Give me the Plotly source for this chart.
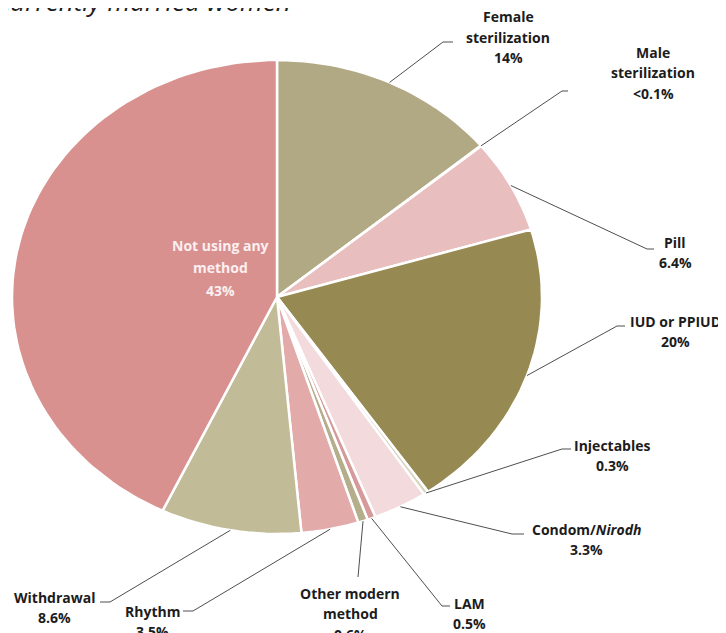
import numpy as np
import plotly.graph_objects as go

# ---- data ----
categories = ["Female sterilization", "Male sterilization", "Pill", "IUD or PPIUD",
              "Injectables", "Condom/Nirodh", "LAM", "Other modern method",
              "Rhythm", "Withdrawal", "Not using any method"]
values = [14, 0.05, 6.4, 20, 0.3, 3.3, 0.5, 0.6, 3.5, 8.6, 43]
value_labels = ["14%", "<0.1%", "6.4%", "20%", "0.3%", "3.3%", "0.5%", "0.6%", "3.5%", "8.6%", "43%"]
label_lines = [["Female", "sterilization"], ["Male", "sterilization"], ["Pill"], ["IUD or PPIUD"],
               ["Injectables"], ["Condom/<i>Nirodh</i>"], ["LAM"], ["Other modern", "method"],
               ["Rhythm"], ["Withdrawal"], ["Not using any", "method"]]
title_text = "Currently married women"

# ---- style / layout ----
colors = ["#B1A984", "#C9C2A3", "#E8BEBF", "#968A52", "#D6D2BC", "#F3DADD",
          "#D79A9B", "#B5AE8C", "#E3AAAA", "#C2BB97", "#D8918F"]
OFF = 8  # page body margin
W, H = 726 - OFF, 633 - OFF
cx, cy, rx, ry = 277, 297, 265, 237
# label layout: (center x, first-line y, elbow x, elbow y, end x, end y)
label_pos = [
    (508, 17, 443, 42, 453, 42),
    (653, 52, 562, 91, 568, 91),
    (675, 242, 647, 249, 654, 249),
    (675, 321, 617, 326, 625, 326),
    (612, 445, 562, 449, 571, 449),
    (586, 529, 512, 534, 524, 534),
    (469, 603, 442, 606, 450, 606),
    (350, 593, 358, 577, 358, 577),
    (152, 611, 193, 611, 183, 611),
    (54, 597, 110, 602, 100, 602),
    None,
]
line_gap = 20.5
FONT = "Open Sans, sans-serif"
label_font = dict(family=FONT, size=14, color="#1c1c1c")


def px(x):
    return (x - OFF) / W


def py(y):
    return 1 - (y - OFF) / H


total = sum(values)
fig = go.Figure()


def ell(theta):
    return cx + rx * np.sin(theta), cy - ry * np.cos(theta)


start = 0.0
mids = []
for cat, v, col in zip(categories, values, colors):
    a0 = start / total * 2 * np.pi
    a1 = (start + v) / total * 2 * np.pi
    n = max(3, int(200 * v / total))
    th = np.linspace(a0, a1, n)
    xs, ys = ell(th)
    fig.add_trace(go.Scatter(x=np.concatenate([[cx], xs, [cx]]),
                             y=np.concatenate([[cy], ys, [cy]]),
                             mode="lines", fill="toself", fillcolor=col,
                             line=dict(color="white", width=2.5), name=cat,
                             hoverinfo="name", showlegend=False))
    mids.append((a0 + a1) / 2)
    start += v

# leader lines and labels
for i, pos in enumerate(label_pos):
    lines = label_lines[i] + [value_labels[i]]
    if pos is None:
        for k, t in enumerate(lines):
            fig.add_annotation(x=px(220), y=py(245 + k * 22.5), xref="paper", yref="paper",
                               text="<b>" + t + "</b>", showarrow=False,
                               font=dict(family=FONT, size=14, color="#FBEFEF"),
                               xanchor="center", yanchor="middle")
        continue
    lx, ly, ex, ey, tx, ty = pos
    sx, sy = ell(mids[i])
    fig.add_trace(go.Scatter(x=[sx, ex, tx], y=[sy, ey, ty], mode="lines",
                             line=dict(color="#3a3a3a", width=0.9), hoverinfo="skip",
                             showlegend=False))
    for k, t in enumerate(lines):
        fig.add_annotation(x=px(lx), y=py(ly + k * line_gap), xref="paper", yref="paper",
                           text="<b>" + t + "</b>", showarrow=False,
                           font=label_font, xanchor="center", yanchor="middle")

fig.add_annotation(x=px(-7), y=py(21), xref="paper", yref="paper",
                   text="<i>" + title_text + "</i>", showarrow=False,
                   font=dict(family=FONT, size=26, color="#1e1e1e"),
                   xanchor="left", yanchor="bottom")

fig.update_layout(width=W, height=H, margin=dict(l=0, r=0, t=0, b=0),
                  paper_bgcolor="white", plot_bgcolor="white",
                  xaxis=dict(range=[OFF, OFF + W], visible=False, fixedrange=True),
                  yaxis=dict(range=[OFF + H, OFF], visible=False, fixedrange=True))

fig.write_html("out.html")
